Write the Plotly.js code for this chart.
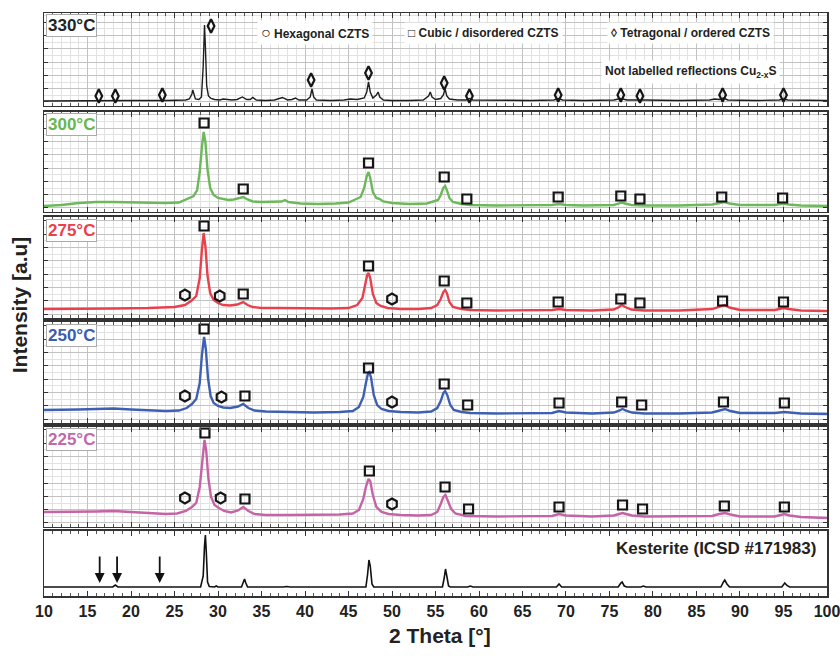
<!DOCTYPE html>
<html><head><meta charset="utf-8">
<script src="https://cdn.plot.ly/plotly-3.0.1.min.js"></script>
<style>html,body{margin:0;padding:0;background:#fff}#chart{width:840px;height:656px}</style>
</head><body><div id="chart"></div>
<script>
// ---- data (2 Theta in degrees, intensity in arbitrary units per panel) ----
const x330 = [10,14,16.3,20,24,26.3,26.7,27.0,27.1,27.2,27.4,27.8,28.1,28.3,28.4,28.45,28.55,28.7,28.9,29.2,29.6,30.2,30.6,31.0,31.6,32.2,32.8,33.3,33.7,34.0,34.4,35.5,36.5,37.4,38.0,38.5,38.9,39.3,40.2,40.6,40.8,41.0,41.3,43,44.5,45.2,46.0,46.8,47.1,47.3,47.5,47.8,48.2,48.4,48.6,49.0,50,52,53.6,54.2,54.4,54.6,55.0,55.6,55.9,56.1,56.3,56.6,57.5,58.5,58.9,59.3,62,66,68.6,69.1,69.6,72,75.5,76.3,77,78.4,79,83,86.5,87.1,87.6,88.1,88.6,92,94.5,95.0,95.5,100];
const y330 = [5,5.5,5.5,5.5,5.5,6,7,12,16,12,7,6.5,9,40,75,81,60,20,10,7.5,6.5,6,7,6.5,6,6.5,9,6.5,6.5,8.5,6,5.5,6,8.5,6,6.5,8,6,6,9,17,9,6,5.5,6,7,6.5,8,14,24,14,8,11,14,9,6,5.5,5.5,6,10,14,9,6.5,7.5,11,17,10,7,6,6,7.5,6,5.5,5.5,6,7.5,6,5.5,6,7.5,6,6.5,6,5.5,6,7,6.5,8,6,5.5,6,7,6,5.5];

const x300 = [10,12,14,16,18,20,22,24,25.5,26.2,26.7,27.2,27.6,27.9,28.15,28.35,28.55,28.8,29.1,29.5,30.0,30.6,31.2,31.8,32.4,32.9,33.4,34.0,35,36.5,37.3,37.7,38.1,39.5,41.5,43.5,45.0,45.9,46.4,46.8,47.1,47.3,47.5,47.8,48.2,48.6,49.0,50,52,54,54.8,55.3,55.6,55.9,56.1,56.3,56.6,57.0,58,59,62,66,68.4,69.2,70,72,75.5,76.1,76.4,76.8,77.5,79,83,86.8,87.6,88.2,88.8,90,94,94.7,95.0,95.6,97,100];
const y300 = [6,7,9,10,10,9.5,9,9,9.5,12,14,16,22,40,65,80,70,42,24,17,14,13,12,12.5,14,15,12.5,10.5,10,10,10.5,12,10,8.5,8,8.5,9.5,13,15,24,36,40,34,20,14,13,10.5,9,8,8.5,10.5,12,17,24,26,22,14,10,8,7,6.5,6.5,7,8,7,6.5,7,8.5,9.5,8.5,7,6.5,6.5,7.5,9,10,8.5,7,7,8,8.5,7.5,6.5,6];

const x275 = [10,14,18,22,25,26.2,26.9,27.5,27.9,28.15,28.35,28.55,28.8,29.1,29.5,30.0,30.6,31.4,32.2,32.9,33.4,34.0,35,37,40,43,45,46.0,46.6,46.9,47.15,47.3,47.5,47.8,48.2,48.7,49.5,51,53,54.5,55.2,55.6,55.9,56.1,56.3,56.6,57.0,58,59,62,66,68.4,69.2,70,73,75.5,76.1,76.4,76.8,77.5,79,83,86.8,87.6,88.2,88.8,90,94,94.7,95.0,95.6,97,100];
const y275 = [9,9,9.5,10,11,13,17,22,40,68,85,72,42,25,18,15,13,12.5,13.5,16,13,11,10,10,9.5,9.5,10,13,20,32,43,45,40,24,15,12,10,9,9,10,13,19,26,28,25,16,11,9,8,7.5,7.5,8,9,8,7.5,8.5,11,13,11,8.5,7.5,7.5,9,11.5,13,10.5,8,8,9.5,10,9,7.5,7];

const x250 = [10,12,14,16,18,20,22,24,25.5,26.4,27.0,27.5,27.9,28.15,28.4,28.6,28.85,29.15,29.5,30.0,30.6,31.4,32.3,32.9,33.5,34.2,35.5,38,41,44,45.5,46.2,46.7,47.0,47.25,47.4,47.6,47.9,48.3,48.8,49.6,51,53,54.5,55.2,55.6,55.9,56.1,56.35,56.7,57.1,58,59,62,66,68.4,69.2,70,73,75.5,76.1,76.5,76.9,77.6,79,83,86.8,87.6,88.3,88.9,90,94,94.7,95.1,95.7,97,100];
const y250 = [13,13,13.5,14,14.5,13.5,12.5,12,12.5,15,19,24,40,68,86,74,45,27,20,17,15.5,15,16.5,19,15,12.5,11.5,11,10.5,11,12,16,26,40,50,51,45,28,18,14,12,11,10.5,11.5,15,22,30,32,28,18,13,11,10,9.5,9.5,10,12,10.5,9.5,10.5,12.5,14,12.5,10.5,9.5,9.5,10.5,12.5,14,12,10,10,10.5,11,10.5,9.5,9];

const x225 = [10,12,14,16,18,20,22,24,25.3,26.3,27.0,27.5,27.9,28.2,28.45,28.65,28.9,29.2,29.6,30.1,30.7,31.5,32.3,32.9,33.5,34.2,35.5,38,41,44,45.5,46.2,46.7,47.0,47.3,47.5,47.8,48.2,48.8,49.6,51,53,54.5,55.2,55.6,55.9,56.15,56.4,56.8,57.3,58.5,62,66,68.4,69.2,70,73,75.5,76.1,76.5,76.9,77.6,79,83,86.8,87.6,88.3,88.9,90,94,94.7,95.1,95.7,97,100];
const y225 = [15,15,15.5,15.5,16,15,14,13,13.5,16,20,24,40,70,87,76,48,30,22,19,16,14.5,16.5,20,16,13,12,12,12,12.5,13.5,17,28,40,48,46,32,20,15,13,12,11.5,12,15,23,30,32,27,18,13.5,11,10.5,10.5,11,13,11.5,10.5,11.5,13,14,13,11.5,10.5,10.5,11,13,14,12.5,10.5,10.5,12,13,11.5,10,9];

const xKest = [10,17.9,18.2,18.5,28.0,28.3,28.45,28.55,28.65,28.8,29.0,29.6,29.8,30.0,32.7,32.9,33.05,33.2,33.4,37.5,37.9,38.3,47.0,47.2,47.35,47.5,47.7,47.9,55.8,56.0,56.15,56.3,56.5,56.7,58.7,59.0,59.3,68.9,69.2,69.5,76.0,76.3,76.45,76.7,77.0,78.6,78.9,79.2,87.8,88.1,88.25,88.5,88.8,94.8,95.0,95.15,95.4,95.7,100];
const yKest = [9,9,11,9,9,20,50,61,45,14,9.5,9,10,9,9,15,17,13,9,9,9.5,9,9,22,36,30,12,9,9,18,27,20,10,9,9,10,9,9,12,9,9,13,14,10,9,9,10,9,9,14,16,12,9,9,12,13,10.5,9,9];

// phase markers
const diaX330 = [16.3,18.2,23.6,29.2,40.7,47.3,56.0,58.9,69.1,76.3,78.5,88.0,95.0];
const diaY330 = [10,10,11,80,26,33,23,10,11,11,10,11,11];
const sqX300 = [28.4,32.9,47.3,56.0,58.6,69.1,76.3,78.5,87.9,94.9];
const sqY300 = [89,23,49,35,13,15,16,13,15,14];
const sqX275 = [28.4,32.9,47.3,56.0,58.6,69.1,76.3,78.5,88.0,95.0];
const sqY275 = [92,24,52,37,15,16,19,15,17,16];
const hexX275 = [26.2,30.2,50.0];
const hexY275 = [23,22,19];
const sqX250 = [28.4,33.1,47.3,56.0,58.7,69.2,76.4,78.7,88.1,95.1];
const sqY250 = [94,27,55,39,18,20,21,18,21,20];
const hexX250 = [26.2,30.4,50.0];
const hexY250 = [27,26,21];
const sqX225 = [28.5,33.1,47.4,56.1,58.8,69.2,76.5,78.8,88.2,95.1];
const sqY225 = [94,28,56,40,18,20,22,18,21,20];
const hexX225 = [26.2,30.3,50.0];
const hexY225 = [29,29,23];

// arrows in reference pattern
const arrowX = [16.4,18.4,23.3];
const arrowTail = [41,41,41];
const arrowTip = [13,13,13];

const sampleLabels = ['330°C','300°C','275°C','250°C','225°C'];
const refLabel = 'Kesterite (ICSD #171983)';
const xTitle = '2 Theta [°]';
const yTitle = 'Intensity [a.u]';

// ---- build ----
const FONT = 'Liberation Sans, Arial, sans-serif';
const lineColors = ['#1e1e1e','#6cb85a','#e8414e','#3e5fb2','#c563a6','#111111'];
const labelColors = ['#222222','#67b64f','#ea3f4c','#3b5cb0','#c368a9'];
const lineWidths = [1.4,2.4,2.4,2.4,2.4,1.6];
const domains = [[0.8405,1.0],[0.6587,0.8302],[0.4768,0.6501],[0.2967,0.4700],[0.1184,0.2899],[0,0.1115]];
const heights = [93,100,101,101,100,65];
const curvesX = [x330,x300,x275,x250,x225,xKest];
const curvesY = [y330,y300,y275,y250,y225,yKest];

const traces = [];
const ax = i => (i===0?'':String(i+1));
for (let i=0;i<6;i++){
  traces.push({x:curvesX[i], y:curvesY[i], type:'scatter', mode:'lines',
    line:{color:lineColors[i], width:lineWidths[i]}, xaxis:'x'+ax(i), yaxis:'y'+ax(i), hoverinfo:'skip'});
}
function mk(xs, ys, i, sym, size){
  traces.push({x:xs, y:ys, type:'scatter', mode:'markers', xaxis:'x'+ax(i), yaxis:'y'+ax(i),
    marker:{symbol:sym, size:size, color:'#151515', line:{width:2.2, color:'#151515'}}, hoverinfo:'skip', cliponaxis:false});
}
mk(diaX330, diaY330, 0, 'diamond-tall-open', 9.5);
mk(sqX300, sqY300, 1, 'square-open', 9);
mk(sqX275, sqY275, 2, 'square-open', 9);
mk(hexX275, hexY275, 2, 'hexagon-open', 11);
mk(sqX250, sqY250, 3, 'square-open', 9);
mk(hexX250, hexY250, 3, 'hexagon-open', 11);
mk(sqX225, sqY225, 4, 'square-open', 9);
mk(hexX225, hexY225, 4, 'hexagon-open', 11);

const layout = {
  width:840, height:656, margin:{l:44, r:13, t:13, b:60},
  paper_bgcolor:'#fff', plot_bgcolor:'#fff', showlegend:false, hovermode:false,
  font:{family:FONT, color:'#222'}, annotations:[]
};
for (let i=0;i<6;i++){
  const grid = i<5;
  layout['xaxis'+ax(i)] = {
    domain:[0,1], anchor:'y'+ax(i), range:[10,100.001], tick0:10, dtick:5,
    ticks:'inside', ticklen:5, tickcolor:'#333', tickwidth:1,
    showline:true, linecolor:'#333', linewidth:1.5, mirror:'allticks',
    showgrid:grid, gridcolor:'#c2c2c2', gridwidth:1, zeroline:false,
    showticklabels:i===5, ticklabeloverflow:'allow',
    tickfont:{family:FONT, size:16, color:'#222', weight:'bold'},
    minor:{dtick:1, ticks:'inside', ticklen:3, tickcolor:'#555', showgrid:grid, gridcolor:'#e2e2e2', gridwidth:1}
  };
  layout['yaxis'+ax(i)] = {
    domain:domains[i], anchor:'x'+ax(i), range:[0,heights[i]], tick0:4, dtick:13.3,
    ticks:grid?'inside':'', ticklen:4, tickcolor:'#333',
    showline:true, linecolor:'#333', linewidth:1.5, mirror:grid?'allticks':true,
    showgrid:grid, gridcolor:'#c2c2c2', gridwidth:1, zeroline:false, showticklabels:false,
    minor:{tick0:4, dtick:6.65, showgrid:grid, gridcolor:'#e2e2e2', gridwidth:1}
  };
}
// sample labels
for (let i=0;i<5;i++){
  layout.annotations.push({xref:'x'+ax(i)+' domain', yref:'y'+ax(i)+' domain', x:0.003, y:0.985,
    xanchor:'left', yanchor:'top', showarrow:false, text:'<b>'+sampleLabels[i]+'</b>',
    font:{family:FONT, size:17, color:labelColors[i]}, bgcolor:'#fff', bordercolor:'#aaaaaa', borderwidth:1, borderpad:1});
}
// legend texts in top panel
const legItems = [
  {t:'<span style="font-size:16px">○</span> Hexagonal CZTS', x:0.272, y:0.785},
  {t:'□ Cubic / disordered CZTS', x:0.46, y:0.785},
  {t:'◊ Tetragonal / ordered CZTS', x:0.719, y:0.785},
  {t:'Not labelled reflections Cu<sub>2-x</sub>S', x:0.711, y:0.366}
];
legItems.forEach(l=>layout.annotations.push({xref:'x domain', yref:'y domain', x:l.x, y:l.y, xanchor:'left', yanchor:'middle',
  showarrow:false, text:'<b>'+l.t+'</b>', font:{family:FONT, size:12, color:'#222'}, bgcolor:'#fff', borderpad:3}));
// reference label
layout.annotations.push({xref:'x6 domain', yref:'y6 domain', x:0.9885, y:0.738, xanchor:'right', yanchor:'middle',
  showarrow:false, text:'<b>'+refLabel+'</b>', font:{family:FONT, size:17, color:'#222'}});
// arrows
for (let k=0;k<arrowX.length;k++){
  layout.annotations.push({xref:'x6', yref:'y6', axref:'x6', ayref:'y6', x:arrowX[k], y:arrowTip[k], ax:arrowX[k], ay:arrowTail[k],
    text:'', showarrow:true, arrowhead:2, arrowsize:1.1, arrowwidth:1.8, arrowcolor:'#111'});
}
// axis titles
layout.annotations.push({xref:'paper', yref:'paper', x:0.506, y:-0.068, xanchor:'center', yanchor:'middle', showarrow:false,
  text:'<b>'+xTitle+'</b>', font:{family:FONT, size:21, color:'#222'}});
layout.annotations.push({xref:'paper', yref:'paper', x:-0.031, y:0.5, xanchor:'center', yanchor:'middle', showarrow:false,
  textangle:-90, text:'<b>'+yTitle+'</b>', font:{family:FONT, size:21, color:'#222'}});

Plotly.newPlot('chart', traces, layout, {displayModeBar:false, staticPlot:true});
</script>
</body></html>
